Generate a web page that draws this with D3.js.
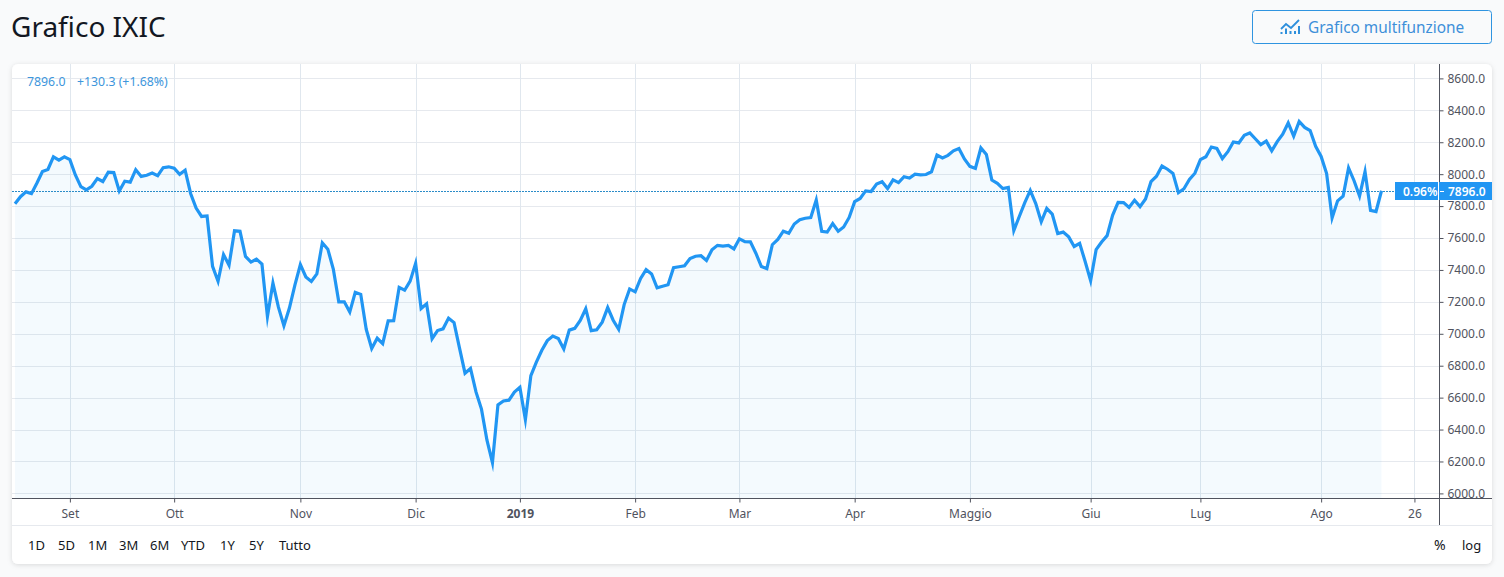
<!DOCTYPE html>
<html><head><meta charset="utf-8">
<script src="https://cdnjs.cloudflare.com/ajax/libs/d3/7.8.5/d3.min.js"></script>
<style>
html,body{margin:0;padding:0;background:#f9fafb;overflow:hidden}
svg{display:block;font-family:"Noto Sans",sans-serif}
</style></head><body>
<svg id="c" width="1504" height="577"></svg>
<script>
const title = "Grafico IXIC";
const buttonLabel = "Grafico multifunzione";
const closes = [
7815,7859,7889,7878,7945,8017,8030,8109,8088,8109,
8091,7995,7922,7902,7924,7972,7954,8013,8010,7895,7956,7950,8028,7986,7993,8007,7990,8041,8046,
8037,7999,8025,7879,7788,7735,7738,7422,7329,7496,7430,7645,7642,7485,7449,7468,7437,7108,7318,7167,7050,7161,7305,
7434,7356,7328,7375,7570,7530,7406,7200,7200,7136,7259,7247,7028,6908,6972,6938,7081,7082,7291,7273,7330,
7441,7158,7188,6969,7020,7031,7098,7070,6910,6753,6783,6636,6528,6333,6192,6554,6579,6584,6635,
6665,6463,6738,6823,6897,6957,6986,6971,6905,7023,7034,7084,7157,7020,7025,7073,7164,7085,7028,7183,7281,
7263,7347,7402,7375,7288,7298,7307,7414,7420,7426,7472,7486,7489,7459,7527,7554,7549,7554,7532,
7595,7577,7576,7505,7421,7408,7558,7591,7643,7630,7688,7714,7724,7728,7838,7642,7637,7691,7643,7669,7729,
7828,7848,7895,7891,7938,7953,7910,7964,7947,7984,7976,8000,7996,7998,8015,8120,8102,8118,8146,8161,8095,
8049,8036,8164,8123,7963,7943,7910,7917,7647,7735,7822,7898,7816,7702,7786,7750,7628,7637,7607,7547,7567,7453,
7333,7527,7575,7615,7742,7823,7822,7792,7837,7797,7845,7953,7987,8051,8031,8005,7884,7909,7967,8006,
8091,8109,8170,8161,8098,8141,8202,8196,8244,8258,8222,8185,8207,8146,8204,8251,8321,8238,8330,8293,8273,8175,
8111,8004,7726,7833,7862,8039,7959,7863,8016,7773,7766,7896];
const xTickLabels = ["Set","Ott","Nov","Dic","2019","Feb","Mar","Apr","Maggio","Giu","Lug","Ago","26"];
const xTickDays   = [10,29,52,73,92,113,132,153,174,196,216,238,255];
const yTicks = [6000,6200,6400,6600,6800,7000,7200,7400,7600,7800,8000,8200,8400,8600];
const lastValue = "7896.0", changeText = "+130.3 (+1.68%)", pctBadge = "0.96%";
const rangeButtons = ["1D","5D","1M","3M","6M","YTD","1Y","5Y","Tutto"];
const rangeButtonLeft = [28,58,88,119,150,181,220,249,279];

const card = {l:12,t:64,r:1492,b:564}, plot = {r:1439.5,b:498.5}, divY = 525.5;
const x = d3.scaleLinear().domain([0,closes.length-1]).range([15,1381.5]);
const y = d3.scaleLinear().domain([6000,8600]).range([493.4,78.4]);
const svg = d3.select("#c");
const defs = svg.append("defs");
const f = defs.append("filter").attr("id","sh").attr("x","-2%").attr("y","-5%").attr("width","104%").attr("height","110%");
f.append("feDropShadow").attr("dx",0).attr("dy",1).attr("stdDeviation",2.5).attr("flood-color","#000").attr("flood-opacity",.13);
defs.append("clipPath").attr("id","pc").append("rect").attr("x",card.l).attr("y",card.t).attr("width",plot.r-card.l).attr("height",plot.b-card.t);

svg.append("text").text(title).attr("x",11).attr("y",37).attr("font-size",28).attr("fill","#131722");

// button
svg.append("rect").attr("x",1252.5).attr("y",10.5).attr("width",239).attr("height",33).attr("rx",3)
  .attr("fill","none").attr("stroke","#2f94e0").attr("stroke-width",1);
svg.append("text").text(buttonLabel).attr("x",1308).attr("y",33).attr("font-size",15.4).attr("fill","#3d8fd9");
const ic = svg.append("g").attr("transform","translate(1280,19)").attr("fill","none").attr("stroke","#2e8fdc");
ic.append("path").attr("d","M1 10 L6 5 L11 9 L19 1").attr("stroke-width",1.8);
ic.append("path").attr("d","M1.5 15 V13 M6 15 V9.5 M10.5 15 V12 M15 15 V12 M19 15 V7").attr("stroke-width",2);

// card
svg.append("rect").attr("x",card.l).attr("y",card.t).attr("width",card.r-card.l).attr("height",card.b-card.t)
  .attr("rx",6).attr("fill","#fff").attr("filter","url(#sh)");

const g = svg.append("g").attr("clip-path","url(#pc)");
// grid
g.selectAll(".h").data(yTicks).join("line").attr("x1",card.l).attr("x2",plot.r)
  .attr("y1",d=>Math.round(y(d))+.5).attr("y2",d=>Math.round(y(d))+.5).attr("stroke","#e6e9ee");
g.selectAll(".v").data(xTickDays).join("line")
  .attr("x1",d=>Math.round(x(d))+.5).attr("x2",d=>Math.round(x(d))+.5).attr("y1",card.t).attr("y2",plot.b).attr("stroke","#e0e7ee");
// area + line
const idx = closes.map((v,i)=>i);
g.append("path").datum(idx).attr("fill","#2196f3").attr("fill-opacity",.05)
  .attr("d",d3.area().x(i=>x(i)).y0(plot.b).y1(i=>y(closes[i])));
g.append("line").attr("x1",card.l).attr("x2",1395).attr("y1",Math.round(y(7896))+.5).attr("y2",Math.round(y(7896))+.5)
  .attr("stroke","#2b8cc8").attr("stroke-dasharray","2 1");
g.append("path").datum(idx).attr("fill","none").attr("stroke","#2196f3").attr("stroke-width",3.2).attr("stroke-linejoin","miter").attr("stroke-miterlimit",10)
  .attr("d",d3.line().x(i=>x(i)).y(i=>y(closes[i])));

// axes
const yAxis = svg.append("g").attr("transform",`translate(${plot.r},0)`)
  .call(d3.axisRight(y).tickValues(yTicks).tickSize(4).tickPadding(4).tickFormat(d3.format(".1f")));
yAxis.select(".domain").remove();
yAxis.selectAll("text").attr("font-size",12).attr("fill","#50535e").attr("font-family",'"Noto Sans",sans-serif');
yAxis.selectAll("line").attr("stroke","#50535e");
const xAxis = svg.append("g").attr("transform",`translate(0,${plot.b})`)
  .call(d3.axisBottom(x).tickValues(xTickDays).tickSize(4).tickPadding(7).tickFormat((d,i)=>xTickLabels[i]));
xAxis.select(".domain").remove();
xAxis.selectAll("text").attr("font-size",12).attr("fill","#50535e").attr("font-family",'"Noto Sans",sans-serif')
  .attr("font-weight",(d,i)=>xTickLabels[i]==="2019"?700:400);
xAxis.selectAll("line").attr("stroke","#50535e");
svg.append("line").attr("x1",card.l).attr("x2",card.r).attr("y1",plot.b).attr("y2",plot.b).attr("stroke","#50535e");
svg.append("line").attr("x1",plot.r).attr("x2",plot.r).attr("y1",card.t).attr("y2",divY).attr("stroke","#50535e");
svg.append("line").attr("x1",card.l).attr("x2",card.r).attr("y1",divY).attr("y2",divY).attr("stroke","#e6e9ee");

// badge
const by = Math.round(y(7896));
svg.append("rect").attr("x",1395).attr("y",by-9).attr("width",97).attr("height",18).attr("fill","#2196f3");
svg.append("rect").attr("x",1438).attr("y",by-9).attr("width",1).attr("height",18).attr("fill","#fff");
svg.append("line").attr("x1",1440).attr("x2",1444).attr("y1",by+.5).attr("y2",by+.5).attr("stroke","#fff");
svg.append("text").text(pctBadge).attr("x",1403).attr("y",by+4.5).attr("font-size",12).attr("font-weight",600).attr("fill","#fff");
svg.append("text").text(lastValue).attr("x",1448).attr("y",by+4.5).attr("font-size",12).attr("font-weight",600).attr("fill","#fff");

// legend
svg.append("text").text(lastValue).attr("x",27).attr("y",86).attr("font-size",12.3).attr("fill","#3d96dc");
svg.append("text").text(changeText).attr("x",77).attr("y",86).attr("font-size",12.3).attr("fill","#3d96dc");

// range buttons
svg.selectAll(".rb").data(rangeButtons).join("text").text(d=>d)
  .attr("x",(d,i)=>rangeButtonLeft[i]).attr("y",550).attr("font-size",13).attr("fill","#131722");
svg.append("text").text("%").attr("x",1434).attr("y",550).attr("font-size",14).attr("fill","#131722");
svg.append("text").text("log").attr("x",1462).attr("y",550).attr("font-size",13).attr("fill","#131722");
</script></body></html>
